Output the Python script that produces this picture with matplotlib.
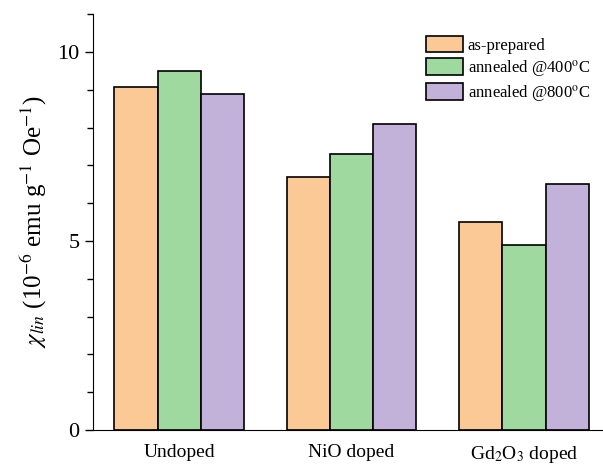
import matplotlib
matplotlib.use('Agg')
import matplotlib.pyplot as plt
import numpy as np
from matplotlib.ticker import MultipleLocator

plt.rcParams['font.family'] = ['Liberation Serif', 'DejaVu Serif']
plt.rcParams['mathtext.fontset'] = 'stix'

# susceptibility per sample, three treatments
samples = ['Undoped', 'NiO doped', 'Gd$_2$O$_3$ doped']
series = ['as-prepared', 'annealed @400$^{\\rm o}$C', 'annealed @800$^{\\rm o}$C']
as_prepared = [9.08, 6.70, 5.50]
annealed_400 = [9.49, 7.30, 4.89]
annealed_800 = [8.89, 8.10, 6.51]
colors = ['#FBC996', '#9FD99F', '#C2B2D9']

fig = plt.figure(figsize=(6.03, 4.68), dpi=100)
ax = fig.add_axes([0.154, 0.081, 0.858, 0.889])

x = np.arange(len(samples))
w = 0.25
for i, (vals, lab, c) in enumerate(zip([as_prepared, annealed_400, annealed_800], series, colors)):
    ax.bar(x + (i - 1) * w, vals, w, color=c, edgecolor='black', linewidth=1.2, label=lab)

ax.set_xlim(-0.5, 2.5)
ax.set_ylim(0, 11)
ax.set_xticks(x)
ax.set_xticklabels(samples, fontsize=14)
ax.set_yticks([0, 5, 10])
ax.yaxis.set_minor_locator(MultipleLocator(1))
ax.tick_params(axis='y', labelsize=16, direction='out', length=6, width=1)
ax.tick_params(axis='y', which='minor', length=4, width=1)
ax.tick_params(axis='x', length=0, pad=10)
ax.spines['top'].set_visible(False)
ax.spines['right'].set_visible(False)
ax.set_ylabel('$\\chi_{lin}$ (10$^{-6}$ emu g$^{-1}$ Oe$^{-1}$)', fontsize=18, labelpad=6)

ax.legend(loc='upper left', bbox_to_anchor=(0.644, 0.948), frameon=False, fontsize=12,
          borderpad=0, borderaxespad=0, handlelength=2.2, handleheight=1.15,
          handletextpad=0.3, labelspacing=0.25)

fig.savefig('out.png', dpi=100)
